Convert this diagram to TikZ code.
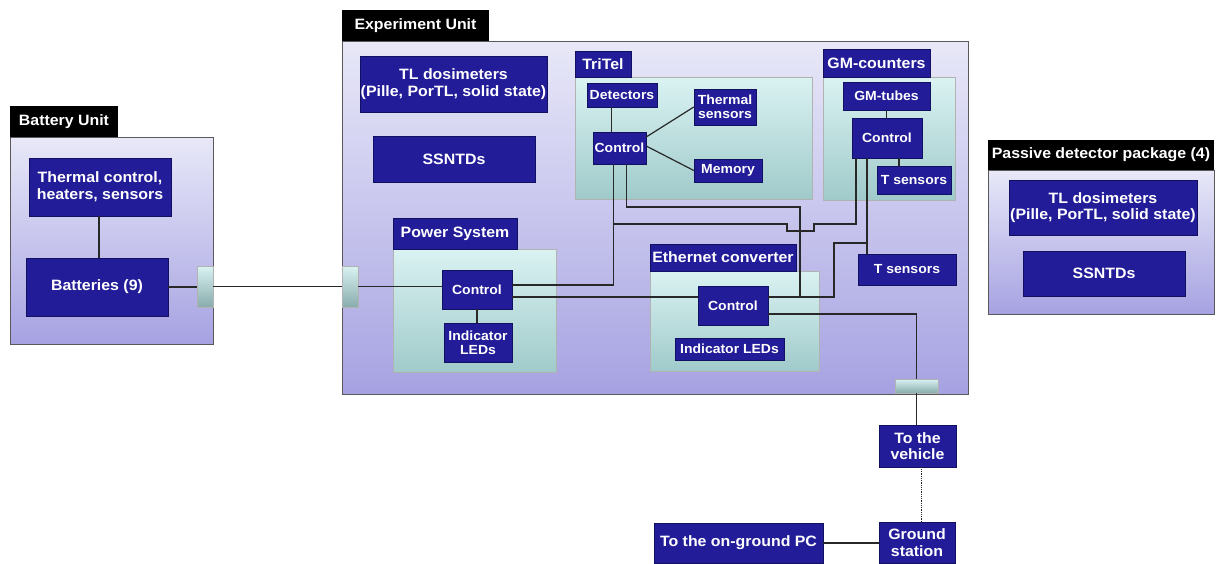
\documentclass[tikz,border=0pt]{standalone}
\usepackage{fontspec}
\setmainfont{Liberation Sans}[FakeStretch=1.06]
\usepackage{xcolor}
\usepackage{tikz}

\definecolor{unitTop}{RGB}{232,232,248}
\definecolor{unitBot}{RGB}{166,162,226}
\definecolor{grpTop}{RGB}{218,242,242}
\definecolor{grpBot}{RGB}{160,202,202}
\definecolor{blkFill}{RGB}{34,28,152}
\definecolor{blkLine}{RGB}{18,16,96}
\definecolor{wire}{RGB}{40,40,40}

\begin{document}
\begin{tikzpicture}[x=1pt,y=-1pt,
    unit/.style={draw=gray!70!black,top color=unitTop,bottom color=unitBot,inner sep=0pt},
    grp/.style={draw=gray!60,top color=grpTop,bottom color=grpBot,inner sep=0pt},
    plug/.style={draw=gray!60,top color=grpTop,bottom color=grpBot!85!black,inner sep=0pt},
    tag/.style={fill=black,text=white,inner sep=0pt,font=\fontsize{15}{16.7}\selectfont\bfseries},
    blk/.style={draw=blkLine,fill=blkFill,text=white,align=center,inner sep=0pt,
      font=\fontsize{15}{16.7}\selectfont\bfseries},
    sblk/.style={blk,font=\fontsize{13.2}{13.6}\selectfont\bfseries},
    ln/.style={draw=wire,line width=1.2pt}]
    \useasboundingbox (0,0) rectangle (1221,563);

    % battery unit
    \node[unit,minimum width=203,minimum height=207] (batUnit) at (111.5,240.5) {};
    \node[tag,minimum width=108,minimum height=31] (batTag) at (64,121.5) {Battery Unit};
    \node[blk,minimum width=142,minimum height=58] (thermCtl) at (100,187) {Thermal control,\\heaters, sensors};
    \node[blk,minimum width=142,minimum height=58] (batteries) at (97,287) {Batteries (9)};
    \node[plug,minimum width=16,minimum height=41] (batPlug) at (205,286.5) {};

    % experiment unit
    \node[unit,minimum width=626,minimum height=353] (expUnit) at (655,217.5) {};
    \node[tag,minimum width=147,minimum height=31] (expTag) at (415.5,25.5) {Experiment Unit};
    \node[blk,minimum width=187,minimum height=56] (tlExp) at (453.5,84) {TL dosimeters\\(Pille, PorTL, solid state)};
    \node[blk,minimum width=162,minimum height=46] (ssntdExp) at (454,159) {SSNTDs};
    \node[plug,minimum width=16,minimum height=41] (expPlugL) at (350,286.5) {};
    \node[plug,minimum width=43,minimum height=14] (expPlugB) at (916.5,386) {};

    % tritel
    \node[grp,minimum width=237,minimum height=122] (tritel) at (693.5,138) {};
    \node[blk,minimum width=56,minimum height=26] (tritelTag) at (603,64) {TriTel};
    \node[sblk,minimum width=70,minimum height=24] (detectors) at (622,95) {Detectors};
    \node[sblk,minimum width=53,minimum height=32] (tritelCtl) at (619.5,148) {Control};
    \node[sblk,minimum width=62,minimum height=36] (thermSens) at (725,107) {Thermal\\sensors};
    \node[sblk,minimum width=68,minimum height=23] (memory) at (728,170.5) {Memory};

    % gm-counters
    \node[grp,minimum width=132,minimum height=123] (gm) at (889,138.5) {};
    \node[blk,minimum width=107,minimum height=28] (gmTag) at (876.5,63) {GM-counters};
    \node[sblk,minimum width=87,minimum height=28] (gmTubes) at (886.5,96) {GM-tubes};
    \node[sblk,minimum width=70,minimum height=40] (gmCtl) at (887,138) {Control};
    \node[sblk,minimum width=74,minimum height=28] (gmTsens) at (914,180) {T sensors};
    \node[sblk,minimum width=98,minimum height=31] (tSens) at (907,269.5) {T sensors};

    % power system
    \node[grp,minimum width=163,minimum height=123] (power) at (474.5,310.5) {};
    \node[blk,minimum width=124,minimum height=31] (powTag) at (455,233.5) {Power System};
    \node[sblk,minimum width=70,minimum height=39] (powCtl) at (477,289.5) {Control};
    \node[sblk,minimum width=68,minimum height=39] (powLeds) at (478,342.5) {Indicator\\LEDs};

    % ethernet converter
    \node[grp,minimum width=169,minimum height=100] (eth) at (734.5,321) {};
    \node[blk,minimum width=146,minimum height=27] (ethTag) at (723,257.5) {Ethernet converter};
    \node[sblk,minimum width=70,minimum height=39] (ethCtl) at (733,305.5) {Control};
    \node[sblk,minimum width=109,minimum height=22] (ethLeds) at (729.5,349) {Indicator LEDs};

    % outside
    \node[blk,minimum width=77,minimum height=42] (vehicle) at (917.5,446) {To the\\vehicle};
    \node[blk,minimum width=76,minimum height=41] (ground) at (917,542.5) {Ground\\station};
    \node[blk,minimum width=169,minimum height=40] (pc) at (738.5,543) {To the on-ground PC};

    % passive detector package
    \node[unit,minimum width=226,minimum height=144] (passive) at (1101,242) {};
    \node[tag,minimum width=226,minimum height=30] (pasTag) at (1101,155) {Passive detector package (4)};
    \node[blk,minimum width=188,minimum height=55] (tlPas) at (1103,207.5) {TL dosimeters\\(Pille, PorTL, solid state)};
    \node[blk,minimum width=162,minimum height=45] (ssntdPas) at (1104,273.5) {SSNTDs};

    % wires
    \coordinate (tap) at (613,224);
    \coordinate (hopL) at (787,224);
    \coordinate (hopR) at (814,224);
    \coordinate (busTop) at (800,207);
    \coordinate (busBot) at (800,297);
    \coordinate (gmStep) at (834,243);
    \path[ln] ([xshift=2]batteries.north) -- ([xshift=2]batteries.north |- thermCtl.south);
    \path[ln] (batteries.east) -- (batteries.east -| batPlug.west);
    \path[ln] (batPlug.east) -- (expPlugL.west);
    \path[ln] (expPlugL.east) -- (expPlugL.east -| powCtl.west);
    \path[ln] (powCtl.south) -- (powCtl.south |- powLeds.north);
    \path[ln] ([xshift=-8]tritelCtl.north) -- ([xshift=-8]tritelCtl.north |- detectors.south);
    \path[ln] ([yshift=11]tritelCtl.east) -- (thermSens.west);
    \path[ln] ([yshift=2]tritelCtl.east) -- (memory.west);
    \path[ln] (gmTubes.south) -- (gmTubes.south |- gmCtl.north);
    \path[ln] ([xshift=12]gmCtl.south) -- ([xshift=12]gmCtl.south |- gmTsens.north);
    \path[ln] ([xshift=-6]tritelCtl.south) |- ([yshift=4.5]powCtl.east);
    \path[ln] (tap) -- (hopL) -- ++(0,7) -- ([yshift=-7]hopR) -- (hopR) -| ([xshift=-31]gmCtl.south);
    \path[ln] ([xshift=7]tritelCtl.south) |- (busTop) -- (busBot);
    \path[ln] ([yshift=-7.5]powCtl.east) -- ([yshift=-7.5]powCtl.east -| ethCtl.west);
    \path[ln] ([yshift=8.5]ethCtl.east) -| (gmStep) -| ([xshift=-20]gmCtl.south);
    \path[ln] ([xshift=-20]gmCtl.south) -- ([xshift=-20]gmCtl.south |- tSens.north);
    \path[ln] ([yshift=-8.5]ethCtl.east) -| (expPlugB.north);
    \path[ln] (expPlugB.south) -- (expPlugB.south |- vehicle.north);
    \path[ln,line width=0.8pt,densely dotted] ([xshift=4]vehicle.south) -- ([xshift=4]vehicle.south |- ground.north);
    \path[ln] (pc.east) -- (pc.east -| ground.west);
  \end{tikzpicture}
\end{document}
